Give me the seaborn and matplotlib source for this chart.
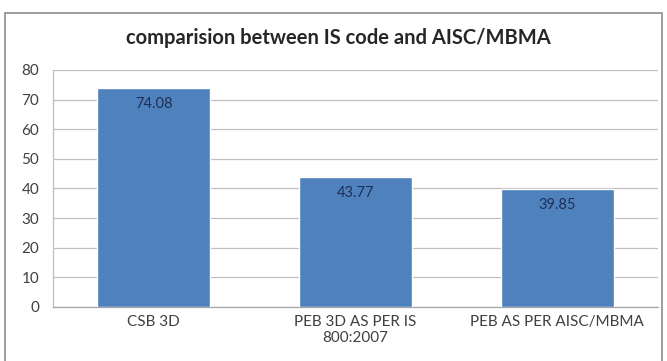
import matplotlib
matplotlib.use("Agg")
import matplotlib.pyplot as plt
from matplotlib.patches import Rectangle
import seaborn as sns
import pandas as pd

# Chart data
categories = ["CSB 3D", "PEB 3D AS PER IS\n800:2007", "PEB AS PER AISC/MBMA"]
values = [74.08, 43.77, 39.85]
value_labels = ["74.08", "43.77", "39.85"]
y_ticks = [0, 10, 20, 30, 40, 50, 60, 70, 80]
title = "comparision between IS code and AISC/MBMA"

df = pd.DataFrame({"category": categories, "value": values})

sns.set_theme(style="white")
plt.rcParams["font.family"] = ["Lato", "DejaVu Sans"]

fig = plt.figure(figsize=(6.67, 3.61), dpi=100)
ax = fig.add_axes([0.0795, 0.1496, 0.907, 0.6565])

sns.barplot(data=df, x="category", y="value", color="#4F81BD", saturation=1,
            width=0.56, ax=ax, zorder=3)

ax.set_xlim(-0.5, 2.5)
ax.set_ylim(0, 80)
ax.set_yticks(y_ticks)
ax.set_yticklabels([str(t) for t in y_ticks])
ax.grid(axis="y", color="#BFBFBF", linewidth=0.9, zorder=0)
ax.set_axisbelow(True)
ax.set_xlabel("")
ax.set_ylabel("")

for side in ["top", "right"]:
    ax.spines[side].set_visible(False)
ax.spines["left"].set_color("#BFBFBF")
ax.spines["left"].set_linewidth(0.9)
ax.spines["bottom"].set_color("#A6A6A6")
ax.spines["bottom"].set_linewidth(0.9)

ax.tick_params(axis="both", length=0, labelsize=11, labelcolor="#404040")
ax.tick_params(axis="y", pad=10)
ax.tick_params(axis="x", pad=6)
for lbl in ax.get_xticklabels():
    lbl.set_linespacing(1.15)

# Value labels inside the top of each bar
for i, (v, txt) in enumerate(zip(values, value_labels)):
    ax.annotate(txt, xy=(i, v), xytext=(0, -11.5), textcoords="offset points",
                ha="center", va="center", fontsize=10.5, color="#1F2F55")

fig.text(0.508, 0.895, title, ha="center", va="center",
         fontsize=14.5, fontweight="bold", color="#262626")

# Chart frame
fig.patches.append(Rectangle((5 / 667, -0.05), 657 / 667, 1 - 13 / 361 + 0.05,
                             transform=fig.transFigure, fill=False,
                             edgecolor="#8C8C8C", linewidth=1.2))

fig.savefig("out.png", dpi=100)
